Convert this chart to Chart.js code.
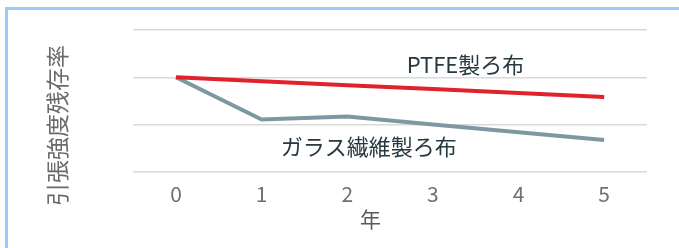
<!DOCTYPE html>
<html><head><meta charset="utf-8">
<script src="https://cdn.jsdelivr.net/npm/chart.js@4/dist/chart.umd.min.js"></script>
<style>
html,body{margin:0;padding:0;background:#fff;width:679px;height:248px;overflow:hidden}
#frame{position:absolute;left:5px;top:7px;width:680px;height:260px;border-left:3px solid #9dcaf7;border-top:3px solid #9dcaf7}
#wrap{position:absolute;left:0;top:0;width:679px;height:248px}
</style></head><body>
<div id="frame"></div>
<div id="wrap"><canvas id="c" width="679" height="248"></canvas></div>
<script>
const years = ["0","1","2","3","4","5"];
const ptfe = [100, 98.3, 96.6, 95.0, 93.3, 91.6];
const glass = [100, 82.1, 83.4, 80.0, 76.7, 73.5];
const ptfeLabel = "PTFE製ろ布";
const glassLabel = "ガラス繊維製ろ布";
const yTitle = "引張強度残存率";
const xTitle = "年";

const FONT = "'Noto Sans CJK JP','Noto Sans',sans-serif";

const seriesLabels = {
  id: 'seriesLabels',
  afterDraw(chart) {
    const {ctx, scales:{x, y}, chartArea} = chart;
    ctx.save();
    ctx.fillStyle = '#263840';
    ctx.font = "22px " + FONT;
    ctx.textAlign = 'center';
    ctx.textBaseline = 'middle';
    ctx.fillText(ptfeLabel, x.getPixelForValue(3.38), y.getPixelForValue(105.3));
    ctx.fillText(glassLabel, x.getPixelForValue(2.25), y.getPixelForValue(70.6));
    // axis titles
    ctx.fillStyle = '#5a5a5a';
    ctx.font = "21px " + FONT;
    ctx.fillText(xTitle, x.getPixelForValue(2.27), 219);
    ctx.fillStyle = '#6a6a6a';
    ctx.font = "23px " + FONT;
    ctx.translate(57, (chartArea.top + chartArea.bottom) / 2 + 24.5);
    ctx.rotate(-Math.PI / 2);
    ctx.fillText(yTitle, 0, 0);
    ctx.restore();
  }
};

new Chart(document.getElementById('c'), {
  type: 'line',
  data: {
    labels: years,
    datasets: [
      {label: ptfeLabel, data: ptfe, borderColor: '#e0222c', borderWidth: 4, pointRadius: 0, tension: 0},
      {label: glassLabel, data: glass, borderColor: '#7e98a2', borderWidth: 4, pointRadius: 0, tension: 0}
    ]
  },
  options: {
    responsive: false,
    animation: false,
    layout: {padding: {left: 40, right: 32, top: 30, bottom: 7}},
    plugins: {legend: {display: false}, tooltip: {enabled: false}},
    scales: {
      x: {
        offset: true,
        grid: {display: false, drawTicks: false},
        border: {display: false},
        ticks: {color: '#707070', font: {family: FONT, size: 21}, padding: 10},
        title: {display: true, text: xTitle, color: 'rgba(0,0,0,0)', font: {family: FONT, size: 20}, padding: {top: 0, bottom: 0}}
      },
      y: {
        min: 60, max: 120,
        grid: {color: '#d9d9d9', lineWidth: 1.5, drawTicks: false},
        border: {display: false},
        ticks: {display: false, stepSize: 20},
        title: {display: true, text: yTitle, color: 'rgba(0,0,0,0)', font: {family: FONT, size: 21}, padding: {top: 4, bottom: 64}}
      }
    }
  },
  plugins: [seriesLabels]
});
</script>
</body></html>
